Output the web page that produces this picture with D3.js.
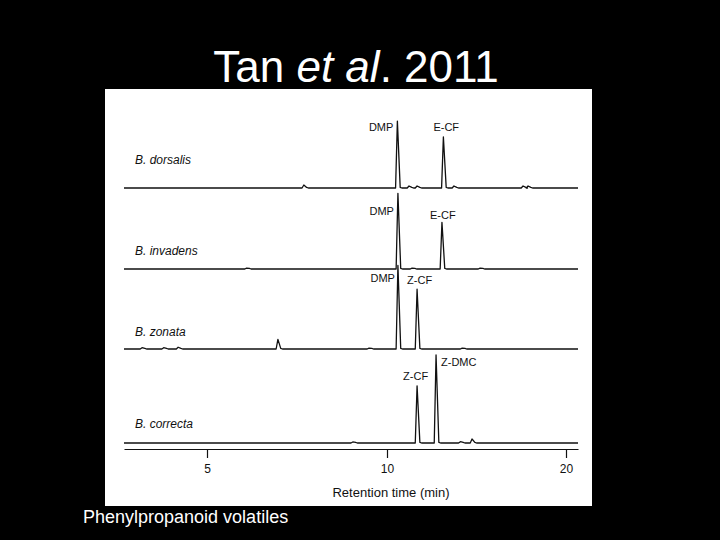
<!DOCTYPE html>
<html>
<head>
<meta charset="utf-8">
<script src="https://cdn.jsdelivr.net/npm/d3@7"></script>
<style>
  body { margin: 0; background: #000; }
  svg { display: block; }
  .trace { fill: none; stroke: #111; stroke-width: 1.3; stroke-linejoin: round; }
  .axis path, .axis line { stroke: #111; stroke-width: 1.2; }
  .axis text { font-family: "Liberation Sans", Arial, sans-serif; font-size: 12px; fill: #111; }
</style>
</head>
<body>
<script>

// species, one chromatogram each (top to bottom)
var species = ["B. dorsalis", "B. invadens", "B. zonata", "B. correcta"];

// peaks: [retention time (min), relative abundance]
var dorsalisPeaks = [[7.69, 3.4], [10.58, 76], [11.23, 2.3], [11.68, 2.3], [13.15, 58], [13.74, 2.3], [17.6, 2.3], [17.88, 2.3]];
var invadensPeaks = [[6.1, 1], [10.61, 86], [11.4, 1], [13.07, 53], [15.2, 1]];
var zonataPeaks = [[3.2, 1.5], [3.8, 1.5], [4.2, 2], [6.97, 11], [9.5, 1], [10.61, 95], [11.68, 68], [14.2, 1]];
var correctaPeaks = [[9.05, 1.2], [11.68, 65], [12.74, 100], [14.1, 1.5], [14.75, 4.5]];
var peaks = [dorsalisPeaks, invadensPeaks, zonataPeaks, correctaPeaks];

// labelled compounds: [name, retention time]
var compounds = [
  [["DMP", 10.58], ["E-CF", 13.15]],
  [["DMP", 10.61], ["E-CF", 13.07]],
  [["DMP", 10.61], ["Z-CF", 11.68]],
  [["Z-CF", 11.68], ["Z-DMC", 12.74]]
];

// axis
var tickValues = [5, 10, 20];
var xTitle = "Retention time (min)";

//layout
var W = 720, H = 540;
var panel = {x: 105, y: 89, w: 487, h: 417};
var baselines = [188, 269, 349, 443];
var speciesDy = [-24, -14, -13, -15];
// label offsets: [dx from peak, anchor, dy from baseline]
var labelLayout = [
  [[-4, "end", -57], [-10, "start", -57]],
  [[-4, "end", -54], [-12, "start", -50]],
  [[-3, "end", -67], [-10, "start", -65]],
  [[-14, "start", -63], [5, "start", -77]]
];
var axisY = 449;

var svg = d3.select("body").append("svg")
    .attr("width", W)
    .attr("height", H);

svg.append("rect")
    .attr("width", W).attr("height", H)
    .attr("fill", "#000");

// title
var title = svg.append("text")
    .attr("x", 356)
    .attr("y", 82)
    .attr("text-anchor", "middle")
    .attr("fill", "#fff")
    .style("font-family", "Liberation Sans, Arial, sans-serif")
    .style("font-size", "44px");
title.append("tspan").text("Tan ");
title.append("tspan").style("font-style", "italic").text("et al");
title.append("tspan").text(". 2011");

// white figure panel
svg.append("rect")
    .attr("x", panel.x).attr("y", panel.y)
    .attr("width", panel.w).attr("height", panel.h)
    .attr("fill", "#fff");

// x scale: the original axis is not linear (5, 10, 20)
var x = d3.scaleLinear()
    .domain([2.7, 5, 10, 20, 20.67])
    .range([124, 207, 387, 566, 578]);

var y = d3.scaleLinear().domain([0, 100]).range([0, 88]);

var line = d3.line()
    .x(function(d) { return d[0]; })
    .y(function(d) { return d[1]; });

species.forEach(function(name, i) {
  var base = baselines[i];
  var pts = [[x.range()[0], base]];
  peaks[i].slice().sort(function(a, b) { return a[0] - b[0]; })
    .forEach(function(p) {
      var px = x(p[0]);
      pts.push([px - 1.8, base]);
      pts.push([px, base - y(p[1])]);
      pts.push([px + 2.8, base - 0.6]);
      pts.push([px + 4.5, base]);
    });
  pts.push([x.range()[x.range().length - 1], base]);

  svg.append("path")
      .datum(pts)
      .attr("class", "trace")
      .attr("d", line);

  // species label
  svg.append("text")
      .attr("x", 135)
      .attr("y", base + speciesDy[i])
      .attr("fill", "#111")
      .style("font-family", "Liberation Sans, Arial, sans-serif")
      .style("font-size", "12px")
      .style("font-style", "italic")
      .text(name);

  // compound labels
  compounds[i].forEach(function(c, j) {
    var lay = labelLayout[i][j];
    svg.append("text")
        .attr("x", x(c[1]) + lay[0])
        .attr("y", base + lay[2])
        .attr("text-anchor", lay[1])
        .attr("fill", "#111")
        .style("font-family", "Liberation Sans, Arial, sans-serif")
        .style("font-size", "11px")
        .text(c[0]);
  });
});

// Add the X Axis
svg.append("g")
    .attr("class", "axis")
    .attr("transform", "translate(0," + axisY + ")")
    .call(d3.axisBottom(x)
        .tickValues(tickValues)
        .tickSize(9)
        .tickSizeOuter(0)
        .tickPadding(6));

// text label for the x axis
svg.append("text")
    .attr("x", 391)
    .attr("y", 497)
    .attr("text-anchor", "middle")
    .attr("fill", "#111")
    .style("font-family", "Liberation Sans, Arial, sans-serif")
    .style("font-size", "13px")
    .text(xTitle);

// caption
svg.append("text")
    .attr("x", 83)
    .attr("y", 523)
    .attr("fill", "#fff")
    .style("font-family", "Liberation Sans, Arial, sans-serif")
    .style("font-size", "18px")
    .text("Phenylpropanoid volatiles");

</script>
</body>
</html>
